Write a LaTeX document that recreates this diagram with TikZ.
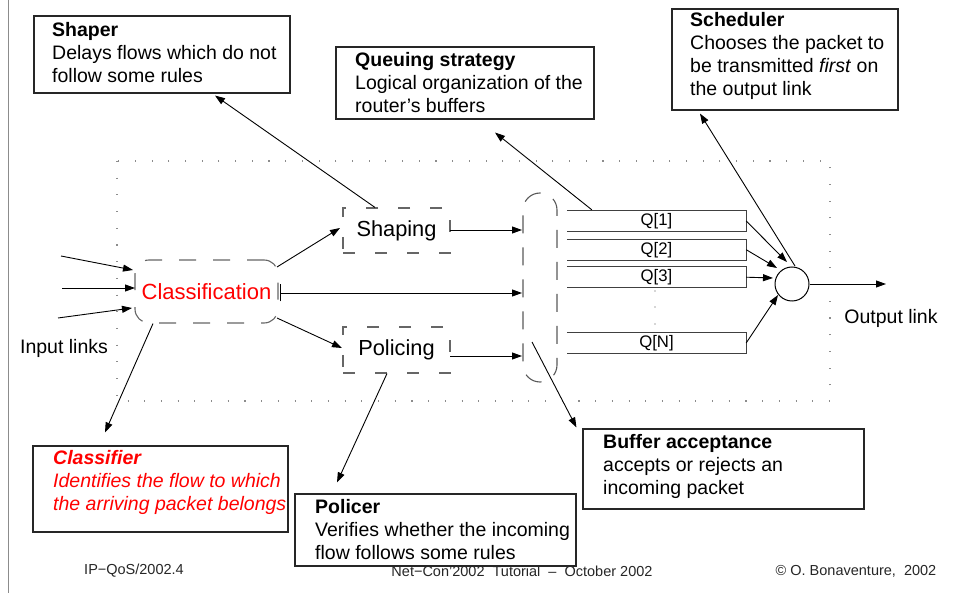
\documentclass[tikz,border=0pt]{standalone}
\usepackage{fontspec}
\setmainfont{Liberation Sans}
\usetikzlibrary{arrows.meta,calc}

\definecolor{clsred}{RGB}{255,0,0}

\begin{document}
\begin{tikzpicture}[x=1pt,y=-1pt,
  body/.style={font=\fontsize{19.5}{23}\selectfont, inner sep=0pt, align=left, anchor=west},
  callout/.style={draw=black!85, line width=1.1pt, fill=white, inner sep=0pt},
  stagebox/.style={draw=black!60, line width=1.1pt, dash pattern=on 12pt off 20pt,
    inner sep=0pt, minimum width=107pt, minimum height=45pt, font=\fontsize{21.8}{24}\selectfont},
  clsshape/.style={draw=black!60, line width=1.1pt, dash pattern=on 17pt off 17pt,
    rounded corners=14pt, inner sep=0pt, minimum width=143pt, minimum height=63pt,
    text=clsred, font=\fontsize{22}{24}\selectfont},
  bufshape/.style={draw=black!65, line width=1.1pt, dash pattern=on 18pt off 14pt,
    rounded corners=17pt, inner sep=0pt, minimum width=34pt, minimum height=189pt},
  qbox/.style={inner sep=0pt, minimum width=179pt, minimum height=20pt,
    font=\fontsize{16.7}{18}\selectfont},
  qline/.style={draw=black!75, line width=1.2pt},
  lbl/.style={font=\fontsize{19.5}{22}\selectfont, inner sep=0pt},
  foot/.style={font=\fontsize{14.5}{16}\selectfont, inner sep=0pt, text=black!85},
  arr/.style={-{Triangle[length=10pt,width=7pt]}, line width=0.9pt},
  plain/.style={line width=0.9pt},
]
\useasboundingbox (0,0) rectangle (970,593);

% slide margin rule
\draw[black!45, line width=1pt] (8.5,0) -- (8.5,593);

% router boundary
\draw[black!45, line width=1.1pt, dash pattern=on 1.1pt off 15.6pt]
  (117,161) rectangle (830,401);

% footer
\node[foot] (footl) at (134,571) {IP−QoS/2002.4};
\node[foot] (footc) at (522,571) {Net−Con'2002\ \ Tutorial\ \ –\ \ October 2002};
\node[foot] (footr) at (856,571) {© O. Bonaventure,\ \ 2002};

% processing stages
\node[clsshape] (cls) at (206.5,291.5) {Classification};
\node[stagebox] (shaping) at (396.5,230.5) {Shaping};
\node[stagebox, minimum height=46pt] (policing) at (396.5,350) {Policing};
\node[bufshape] (buf) at (540,287.5) {};

% queues
\node[qbox] (q1) at (656.5,221) {Q[1]};
\node[qbox, minimum height=20.5pt] (q2) at (656.5,249.7) {Q[2]};
\node[qbox, minimum height=21pt] (q3) at (656.5,277.2) {Q[3]};
\node[qbox, minimum height=20.5pt] (qn) at (656.5,343) {Q[N]};
\foreach \q in {q1,q2,q3,qn}
  \draw[qline] (\q.north west) -- (\q.north east) -- (\q.south east) -- (\q.south west);
\foreach \yy in {291,307,324}
  \fill[black!70] (655,\yy) circle (0.7pt);

% scheduler
\node[circle, draw, line width=1pt, minimum size=34pt, inner sep=0pt] (mux) at (792,284) {};

% link labels
\node[lbl] (inlbl) at (64,348) {Input links};
\node[lbl] (outlbl) at (891,318) {Output link};

% input links
\coordinate (in1) at (61,256);
\coordinate (in2) at (62,288);
\coordinate (in3) at (58,318);
\coordinate (out) at (886,284);
\draw[arr] (in1) -- ($(cls.center)+(-73.5,-21.5)$);
\draw[arr] (in2) -- ($(cls.center)+(-71.5,-3.5)$);
\draw[arr] (in3) -- ($(cls.center)+(-74.5,16.5)$);

% flows through the router
\draw[arr] ($(cls.center)+(70.5,-24.5)$) -- ($(shaping.center)+(-56.5,-2.5)$);
\draw[arr] ($(cls.center)+(70.5,26.5)$) -- ($(policing.center)+(-54.5,-2)$);
\draw[{Bar[width=17pt,sep=0pt]}-{Triangle[length=10pt,width=7pt]}, line width=0.9pt]
  ($(cls.center)+(73.5,1.5)$) -- ($(buf.center)+(-18,5.5)$);
\draw[arr] ($(shaping.center)+(53.5,-0.5)$) -- ($(buf.center)+(-18,-57.5)$);
\draw[arr] ($(policing.center)+(53.5,6)$) -- ($(buf.center)+(-18,68.5)$);

\draw[arr] (q1.east) -- ($(mux.center)+(-5,-22)$);
\draw[arr] (q2.east) -- ($(mux.center)+(-15,-16)$);
\draw[arr] (q3.east) -- ($(mux.center)+(-19,-6)$);
\draw[arr] (qn.east) -- ($(mux.center)+(-14,11)$);
\draw[arr] (mux.east) -- (out);

% explanation boxes
\node[callout, minimum width=256pt, minimum height=77pt] (shaper) at (162,54.5) {};
\node[body] (shapertxt) at (52,52.5) {\textbf{Shaper}\\Delays flows which do not\\follow some rules};

\node[callout, minimum width=258pt, minimum height=72pt] (queuing) at (465,83) {};
\node[body] (queuingtxt) at (355,83) {\textbf{Queuing strategy}\\Logical organization of the\\router’s buffers};

\node[callout, minimum width=226pt, minimum height=101pt] (sched) at (785,59.5) {};
\node[body] (schedtxt) at (690,56) {\textbf{Scheduler}\\Chooses the packet to\\be transmitted \textit{first} on\\the output link};

\node[callout, minimum width=255pt, minimum height=86pt] (classifier) at (160.5,489) {};
\node[body, text=clsred] (classifiertxt) at (53,482.5) {\textbf{\textit{Classifier}}\\\textit{Identifies the flow to which}\\\textit{the arriving packet belongs}};

\node[callout, minimum width=281pt, minimum height=80pt] (bufacc) at (723.5,469) {};
\node[body] (bufacctxt) at (603,466) {\textbf{Buffer acceptance}\\accepts or rejects an\\incoming packet};

\node[callout, minimum width=281pt, minimum height=72pt] (policer) at (435.5,530) {};
\node[body] (policertxt) at (315,530) {\textbf{Policer}\\Verifies whether the incoming\\flow follows some rules};

% pointers to the explanations
\draw[arr] ($(shaping.north)+(-21.5,0)$) -- ($(shaper.south)+(53,2)$);
\draw[arr] ($(q1.north west)+(25,-1)$) -- ($(queuing.south)+(30,13)$);
\draw[arr] ($(mux.center)+(3,-18)$) -- ($(sched.south)+(-85,3)$);
\draw[arr] ($(cls.south)+(-53.5,0)$) -- ($(classifier.north)+(-55.5,-13)$);
\draw[arr] ($(policing.south)+(-9.5,0)$) -- ($(policer.north)+(-98.5,-11)$);
\draw[arr] ($(buf.center)+(-8,54.5)$) -- ($(bufacc.north west)+(-6,-1)$);

\end{tikzpicture}
\end{document}
